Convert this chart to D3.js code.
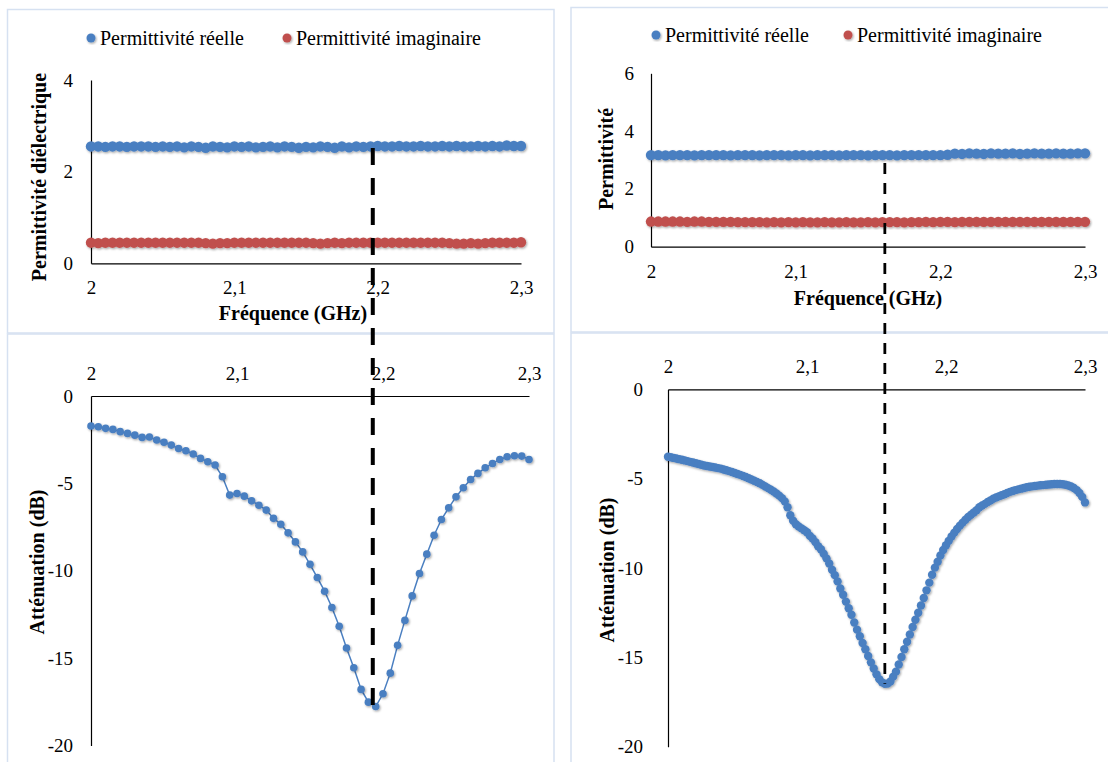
<!DOCTYPE html>
<html>
<head>
<meta charset="utf-8">
<script src="https://cdn.jsdelivr.net/npm/d3@7"></script>
<style>
  html, body { margin: 0; padding: 0; background: #fff; }
  svg { display: block; }
</style>
</head>
<body>
<svg id="chart" width="1108" height="762"></svg>
<script>
// ---------------- DATA ----------------
const xTicks = [2, 2.1, 2.2, 2.3];
const yTicksPermLeft = [0, 2, 4];
const yTicksPermRight = [0, 2, 4, 6];
const yTicksAtt = [0, -5, -10, -15, -20];

const legendLabels = ["Permittivité réelle", "Permittivité imaginaire"];
const permTitleLeft = "Permittivité diélectrique";
const permTitleRight = "Permittivité";
const freqTitle = "Fréquence (GHz)";
const attTitle = "Atténuation (dB)";

// Frequency sweep grids (GHz)
const freqCoarse = d3.range(61).map(i => +(2 + i * 0.005).toFixed(3));
const freqFine = d3.range(151).map(i => +(2 + i * 0.002).toFixed(3));

// Left sample: permittivity (coarse grid)
const realLeft = [
  2.55,2.55,2.54,2.55,2.55,2.54,2.55,2.55,2.55,2.54,
  2.55,2.54,2.55,2.53,2.55,2.54,2.52,2.55,2.54,2.53,
  2.55,2.54,2.55,2.53,2.54,2.55,2.53,2.55,2.54,2.52,
  2.54,2.53,2.55,2.54,2.52,2.55,2.53,2.55,2.54,2.55,
  2.56,2.55,2.55,2.56,2.55,2.55,2.56,2.55,2.55,2.56,
  2.55,2.56,2.55,2.55,2.56,2.55,2.56,2.55,2.57,2.56,2.56
];
const imagLeft = [
  0.45,0.44,0.45,0.45,0.45,0.45,0.45,0.45,0.45,0.45,
  0.45,0.45,0.45,0.45,0.45,0.45,0.44,0.43,0.44,0.44,
  0.45,0.45,0.45,0.45,0.45,0.45,0.45,0.45,0.45,0.45,
  0.45,0.44,0.43,0.44,0.45,0.44,0.45,0.45,0.45,0.45,
  0.45,0.45,0.45,0.45,0.45,0.45,0.45,0.45,0.45,0.45,
  0.44,0.43,0.43,0.44,0.43,0.44,0.45,0.45,0.45,0.45,0.46
];
// Left sample: attenuation (coarse grid)
const attLeft = [
  -1.72,-1.76,-1.85,-1.91,-2.04,-2.14,-2.24,-2.37,-2.35,-2.52,
  -2.65,-2.81,-3.00,-3.13,-3.32,-3.57,-3.76,-3.95,-4.62,-5.67,
  -5.58,-5.73,-6.00,-6.25,-6.53,-7.00,-7.34,-7.83,-8.35,-8.92,
  -9.63,-10.39,-11.17,-12.10,-13.18,-14.42,-15.55,-16.79,-17.52,-17.77,
  -17.04,-15.86,-14.27,-12.84,-11.44,-10.16,-9.05,-7.97,-7.07,-6.40,
  -5.77,-5.25,-4.78,-4.43,-4.11,-3.86,-3.63,-3.48,-3.42,-3.44,-3.63
];

// Right sample: permittivity (coarse grid)
const realRight = [
  3.17,3.17,3.16,3.17,3.17,3.17,3.16,3.17,3.17,3.17,
  3.17,3.16,3.17,3.17,3.17,3.16,3.17,3.17,3.17,3.16,
  3.17,3.17,3.16,3.17,3.17,3.17,3.16,3.17,3.17,3.17,
  3.16,3.17,3.17,3.17,3.16,3.17,3.17,3.17,3.17,3.17,
  3.17,3.18,3.22,3.21,3.23,3.22,3.21,3.23,3.22,3.22,
  3.23,3.21,3.22,3.23,3.22,3.22,3.23,3.22,3.22,3.23,3.23
];
const imagRight = [
  0.87,0.87,0.87,0.87,0.87,0.86,0.87,0.87,0.86,0.86,
  0.86,0.86,0.85,0.85,0.85,0.85,0.84,0.85,0.84,0.85,
  0.84,0.85,0.84,0.84,0.85,0.84,0.84,0.85,0.84,0.84,
  0.85,0.84,0.85,0.85,0.85,0.84,0.85,0.85,0.86,0.85,
  0.86,0.86,0.85,0.86,0.86,0.86,0.86,0.86,0.86,0.86,
  0.86,0.86,0.86,0.86,0.86,0.86,0.86,0.86,0.86,0.86,0.86
];
// Right sample: attenuation (fine grid)
const attRight = [
  -3.77,-3.80,-3.84,-3.87,-3.91,-3.94,-3.98,-4.02,-4.06,-4.10,
  -4.14,-4.18,-4.22,-4.26,-4.29,-4.32,-4.35,-4.38,-4.41,-4.44,
  -4.49,-4.53,-4.58,-4.63,-4.68,-4.74,-4.79,-4.85,-4.91,-4.98,
  -5.05,-5.12,-5.19,-5.26,-5.35,-5.44,-5.53,-5.62,-5.72,-5.83,
  -5.95,-6.09,-6.27,-6.60,-7.05,-7.35,-7.55,-7.68,-7.78,-7.89,
  -8.00,-8.20,-8.35,-8.55,-8.78,-8.95,-9.20,-9.46,-9.75,-10.10,
  -10.40,-10.75,-11.15,-11.50,-11.88,-12.25,-12.62,-13.05,-13.45,-13.82,
  -14.20,-14.55,-14.92,-15.28,-15.62,-15.95,-16.22,-16.40,-16.48,-16.47,
  -16.35,-16.08,-15.80,-15.40,-14.98,-14.55,-14.13,-13.72,-13.30,-12.90,
  -12.50,-12.10,-11.68,-11.25,-10.82,-10.38,-9.98,-9.65,-9.30,-8.99,
  -8.73,-8.48,-8.24,-8.02,-7.82,-7.63,-7.46,-7.30,-7.15,-7.02,
  -6.89,-6.77,-6.60,-6.50,-6.41,-6.31,-6.22,-6.12,-6.05,-5.99,
  -5.93,-5.87,-5.80,-5.74,-5.69,-5.64,-5.60,-5.56,-5.52,-5.48,
  -5.45,-5.43,-5.41,-5.39,-5.37,-5.36,-5.34,-5.33,-5.31,-5.30,
  -5.30,-5.30,-5.31,-5.34,-5.38,-5.44,-5.52,-5.64,-5.80,-6.02,
  -6.33
];

// Resonance frequencies marked by dashed lines (GHz)
const resonanceLeft = 2.193;
const resonanceRight = 2.156;

// ---------------- STYLE ----------------
const BLUE = "#4a7fc1";
const RED = "#c0504d";
const PANEL_STROKE = "#d6e1f1";
const FONT = "Liberation Serif";

const svg = d3.select("#chart");
const defs = svg.append("defs");
const f = defs.append("filter").attr("id", "sh").attr("x", "-20%").attr("y", "-20%").attr("width", "140%").attr("height", "140%");
f.append("feDropShadow").attr("dx", 1).attr("dy", 1.2).attr("stdDeviation", 1).attr("flood-color", "#000").attr("flood-opacity", 0.35);

const fmt = d => String(d).replace(".", ",");

function txt(sel, size, bold) {
  sel.attr("font-family", FONT).style("font-family", FONT)
    .attr("font-size", size).attr("fill", "#000");
  if (bold) sel.attr("font-weight", "bold").style("font-weight", "bold");
  return sel;
}

// Panel borders
const panels = [
  [7.5, 9.5, 546.5, 323.5],
  [571, 7.5, 545, 324.5],
  [7.5, 334, 546.5, 440],
  [571, 333, 545, 440]
];
svg.selectAll("rect.panel").data(panels).join("rect")
  .attr("class", "panel")
  .attr("x", d => d[0]).attr("y", d => d[1])
  .attr("width", d => d[2]).attr("height", d => d[3])
  .attr("fill", "none").attr("stroke", PANEL_STROKE).attr("stroke-width", 1.5);

function styleAxis(g, size) {
  g.attr("font-family", FONT).attr("font-size", size);
  g.select(".domain").attr("stroke", "#000").attr("stroke-width", 1.2);
  g.selectAll(".tick line").remove();
  txt(g.selectAll(".tick text"), size, false);
}

// ---------- Permittivity panel ----------
function permPanel(o) {
  const x = d3.scaleLinear().domain([2, 2.3]).range([o.x0, o.x1]);
  const y = d3.scaleLinear().domain([0, o.yMax]).range([o.y0, o.y1]);
  const g = svg.append("g");

  g.append("g").attr("transform", `translate(0,${o.y0})`)
    .call(d3.axisBottom(x).tickValues(xTicks).tickFormat(fmt).tickSize(0).tickPadding(o.xPad).tickSizeOuter(0))
    .call(a => styleAxis(a, 19));
  g.append("g").attr("transform", `translate(${o.x0},0)`)
    .call(d3.axisLeft(y).tickValues(o.yTicks).tickFormat(fmt).tickSize(0).tickPadding(o.yPad).tickSizeOuter(0))
    .call(a => styleAxis(a, 19));

  const series = [[o.real, BLUE], [o.imag, RED]];
  series.forEach(([vals, col]) => {
    g.append("g").attr("filter", "url(#sh)")
      .selectAll("circle").data(vals).join("circle")
      .attr("cx", (d, i) => x(freqCoarse[i]))
      .attr("cy", d => y(d))
      .attr("r", 5.2)
      .attr("fill", col);
  });

  // legend
  const lg = g.append("g");
  [[o.leg[0], BLUE, legendLabels[0]], [o.leg[1], RED, legendLabels[1]]].forEach(([lx, col, lab]) => {
    lg.append("circle").attr("cx", lx).attr("cy", o.legY).attr("r", 4.5).attr("fill", col).attr("filter", "url(#sh)");
    txt(lg.append("text").attr("x", lx + 9).attr("y", o.legY + 7), 20, false).text(lab);
  });

  txt(g.append("text").attr("x", o.xtX).attr("y", o.xtY).attr("text-anchor", "middle"), 20, true).text(freqTitle);
  txt(g.append("text").attr("transform", `translate(${o.ytX},${o.ytY}) rotate(-90)`).attr("text-anchor", "middle"), 20, true).text(o.yTitle);
  return x;
}

// ---------- Attenuation panel ----------
function attPanel(o) {
  const x = d3.scaleLinear().domain([2, 2.3]).range([o.x0, o.x1]);
  const y = d3.scaleLinear().domain([0, -20]).range([o.y0, o.y1]);
  const g = svg.append("g");

  g.append("g").attr("transform", `translate(0,${o.y0})`)
    .call(d3.axisTop(x).tickValues(xTicks).tickFormat(fmt).tickSize(0).tickPadding(o.xPad).tickSizeOuter(0))
    .call(a => styleAxis(a, 19));
  g.append("g").attr("transform", `translate(${o.x0},0)`)
    .call(d3.axisLeft(y).tickValues(yTicksAtt).tickFormat(fmt).tickSize(0).tickPadding(o.yPad).tickSizeOuter(0))
    .call(a => styleAxis(a, 19));

  if (o.line) {
    g.append("path").datum(o.vals)
      .attr("fill", "none").attr("stroke", BLUE).attr("stroke-width", 1.5)
      .attr("d", d3.line().x((d, i) => x(o.freqs[i])).y(d => y(d)));
  }
  g.append("g").attr("filter", "url(#sh)")
    .selectAll("circle").data(o.vals).join("circle")
    .attr("cx", (d, i) => x(o.freqs[i]))
    .attr("cy", d => y(d))
    .attr("r", o.r)
    .attr("fill", BLUE);

  txt(g.append("text").attr("transform", `translate(${o.ytX},${o.ytY}) rotate(-90)`).attr("text-anchor", "middle"), 20, true).text(attTitle);
  return { x, y };
}

permPanel({ x0: 91, x1: 521, y0: 263.3, y1: 80, yMax: 4, yTicks: yTicksPermLeft,
  xPad: 17, yPad: 18, real: realLeft, imag: imagLeft, leg: [91, 287], legY: 38,
  xtX: 293, xtY: 320, ytX: 46, ytY: 177, yTitle: permTitleLeft });
permPanel({ x0: 651, x1: 1085, y0: 246.7, y1: 73.3, yMax: 6, yTicks: yTicksPermRight,
  xPad: 18, yPad: 17, real: realRight, imag: imagRight, leg: [656, 848], legY: 35,
  xtX: 868, xtY: 305, ytX: 613, ytY: 159, yTitle: permTitleRight });

const bl = attPanel({ x0: 91, x1: 529, y0: 396, y1: 745.5, xPad: 16.5, yPad: 18,
  vals: attLeft, freqs: freqCoarse, r: 3.8, line: true, ytX: 44, ytY: 562 });
const br = attPanel({ x0: 668, x1: 1085, y0: 389.3, y1: 746.7, xPad: 16, yPad: 25,
  vals: attRight, freqs: freqFine, r: 4.2, line: false, ytX: 614, ytY: 570 });

// Dashed resonance markers
svg.append("line")
  .attr("x1", bl.x(resonanceLeft)).attr("x2", bl.x(resonanceLeft))
  .attr("y1", 148).attr("y2", bl.y(d3.min(attLeft)) + 6)
  .attr("stroke", "#000").attr("stroke-width", 4).attr("stroke-dasharray", "17,13");
svg.append("line")
  .attr("x1", br.x(resonanceRight)).attr("x2", br.x(resonanceRight))
  .attr("y1", 163).attr("y2", br.y(d3.min(attRight)))
  .attr("stroke", "#000").attr("stroke-width", 2.8).attr("stroke-dasharray", "11,9");
</script>
</body>
</html>
